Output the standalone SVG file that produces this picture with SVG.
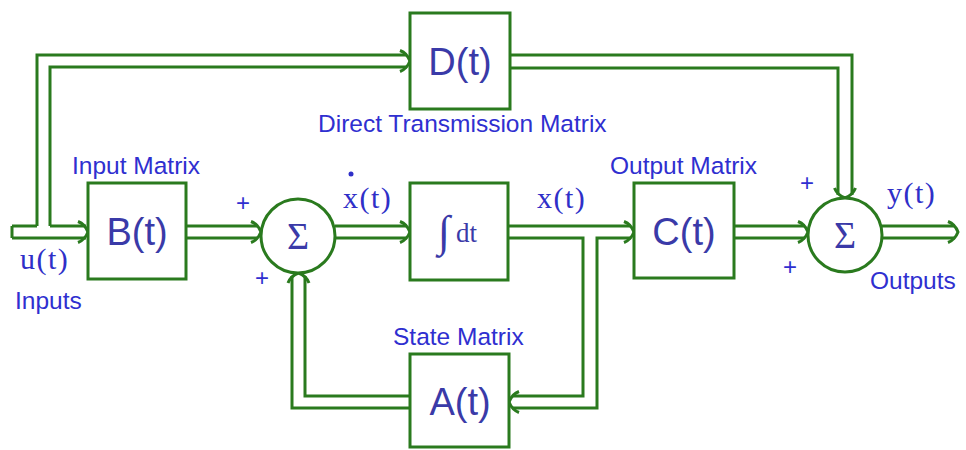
<svg xmlns="http://www.w3.org/2000/svg" xmlns:xlink="http://www.w3.org/1999/xlink" width="966" height="450" viewBox="0 0 966 450">
<style>
.box{fill:#fff;stroke:#2a7a1e;stroke-width:3}
.w{fill:none;stroke:#2a7a1e;stroke-width:3;stroke-linecap:butt}
.bt{font-family:"Liberation Sans",Arial,sans-serif;font-size:38px;fill:#3a3aa8;text-anchor:middle}
.lb{font-family:"Liberation Sans",Arial,sans-serif;font-size:24.5px;fill:#2f2fd0}
.mt{font-family:"Liberation Serif","Times New Roman",serif;font-size:30px;fill:#2f2fc8;letter-spacing:1.5px}
.sig{font-family:"Liberation Serif","Times New Roman",serif;font-size:38px;fill:#3a3aa8;text-anchor:middle}
.sg{font-family:"Liberation Sans",Arial,sans-serif;font-size:24px;fill:#2f2fd0;text-anchor:middle}
</style>
<defs>
<path id="ah" d="M -10 -10.5 C -5 -8.5 -1.5 -4 0 0 C -1.5 4 -5 8.5 -10 10.5" fill="none" stroke="#2a7a1e" stroke-width="3"/>
</defs>
<rect width="966" height="450" fill="#fff"/>
<g id="connectors">
<path class="w" d="M12 226 V238 M12 226 H37 M50 226 H86 M12 238 H86"/>
<path class="w" d="M37 226 V55 H407 M50 226 V67 H407"/>
<use xlink:href="#ah" transform="translate(410,61)"/>
<use xlink:href="#ah" transform="translate(88,232)"/>
<path class="w" d="M510 55 H852 V195 M510 68 H838 V195"/>
<use xlink:href="#ah" transform="translate(845,198) rotate(90)"/>
<path class="w" d="M186 226 H258 M186 238 H258"/>
<use xlink:href="#ah" transform="translate(261,232)"/>
<path class="w" d="M335 226 H407 M335 238 H407"/>
<use xlink:href="#ah" transform="translate(410,232)"/>
<path class="w" d="M508 226 H631 M508 238 H583 V396 H512 M631 238 H597 V408 H512"/>
<use xlink:href="#ah" transform="translate(634,232)"/>
<use xlink:href="#ah" transform="translate(509,402) rotate(180)"/>
<path class="w" d="M410 396 H305 V276 M410 408 H292 V276"/>
<use xlink:href="#ah" transform="translate(298.5,273) rotate(-90)"/>
<path class="w" d="M734 226 H805 M734 238 H805"/>
<use xlink:href="#ah" transform="translate(808,232)"/>
<path class="w" d="M882 226 H955 M882 238 H955"/>
<use xlink:href="#ah" transform="translate(958,232)"/>
</g>
<g id="D">
<rect class="box" x="410" y="13" width="100" height="96"/>
<text class="bt" x="460" y="75">D(t)</text>
<text class="lb" x="318" y="132">Direct Transmission Matrix</text>
</g>
<g id="B">
<rect class="box" x="88" y="183" width="98" height="96"/>
<text class="bt" x="137" y="245">B(t)</text>
<text class="lb" x="72" y="174">Input Matrix</text>
</g>
<g id="sum1">
<circle class="box" cx="298" cy="236" r="37"/>
<text class="sig" x="298" y="249">Σ</text>
<text class="sg" x="243" y="211">+</text>
<text class="sg" x="262" y="286">+</text>
</g>
<g id="integrator">
<rect class="box" x="410" y="183" width="98" height="97"/>
<text font-family="Liberation Serif,serif" font-size="44" fill="#3a3aa8" x="438" y="246">∫</text>
<text font-family="Liberation Serif,serif" font-size="27" fill="#3a3aa8" x="456" y="242">dt</text>
</g>
<g id="C">
<rect class="box" x="634" y="183" width="100" height="95"/>
<text class="bt" x="684" y="245">C(t)</text>
<text class="lb" x="610" y="174">Output Matrix</text>
</g>
<g id="sum2">
<circle class="box" cx="845" cy="235" r="37"/>
<text class="sig" x="845" y="248">Σ</text>
<text class="sg" x="807" y="191">+</text>
<text class="sg" x="790" y="275">+</text>
</g>
<g id="A">
<rect class="box" x="410" y="354" width="99" height="93"/>
<text class="bt" x="460" y="415">A(t)</text>
<text class="lb" x="393" y="345">State Matrix</text>
</g>
<g id="labels">
<text class="mt" x="20" y="269">u(t)</text>
<text class="lb" x="15" y="309">Inputs</text>
<text class="mt" x="343" y="208">x(t)</text>
<circle cx="351" cy="174" r="2.5" fill="#2f2fc8"/>
<text class="mt" x="537" y="208">x(t)</text>
<text class="mt" x="887" y="203">y(t)</text>
<text class="lb" x="870" y="289">Outputs</text>
</g>
</svg>
